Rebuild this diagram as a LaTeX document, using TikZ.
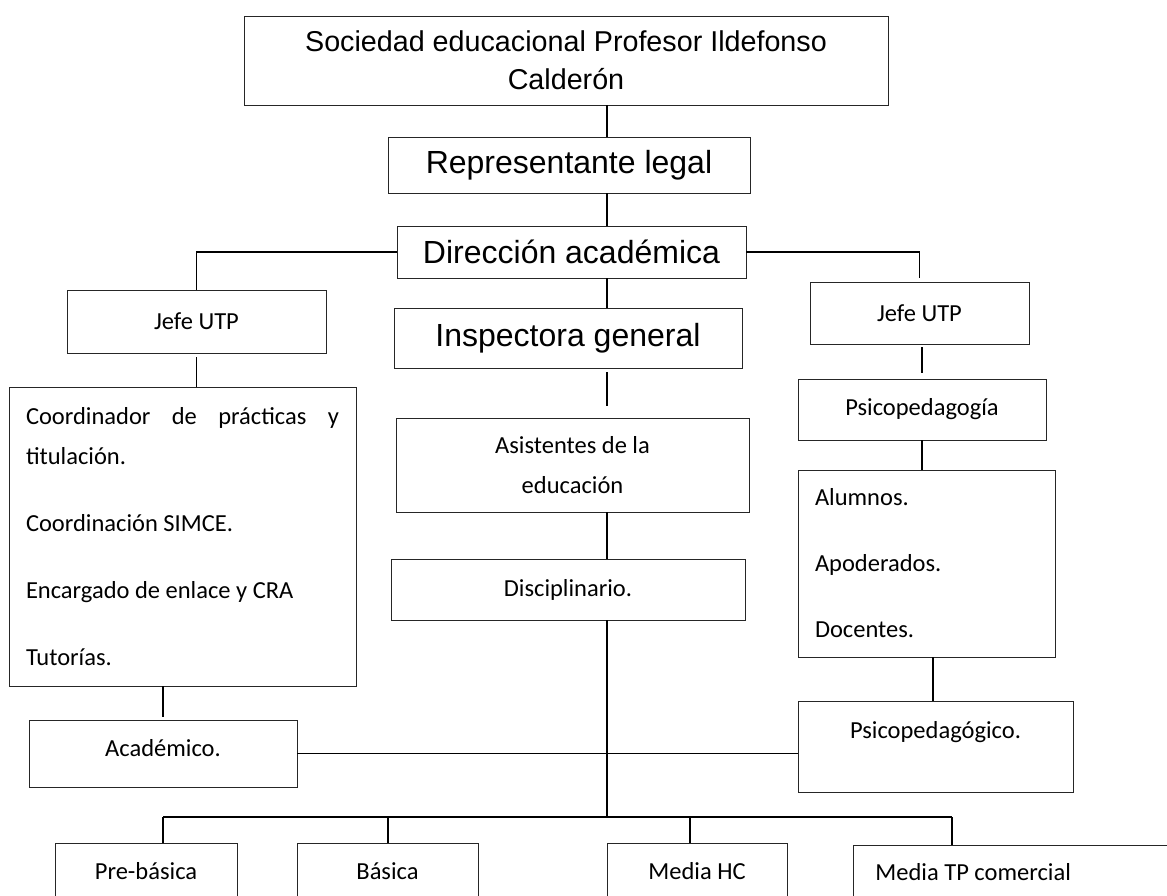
\documentclass[tikz,border=0pt]{standalone}
\usepackage{fontspec}
\setmainfont{Carlito}
\newfontfamily\arialfont{Liberation Sans}
\setlength{\parindent}{0pt}

\begin{document}
\begin{tikzpicture}[x=1pt, y=-1pt,
    box/.style={draw=black!85, line width=0.9pt, inner sep=0pt},
    calib/.style={font=\fontsize{24.5}{40}\selectfont},
    arial/.style={font=\arialfont\fontsize{32}{38}\selectfont},
    title/.style={font=\arialfont\fontsize{28.7}{38}\selectfont},
    link/.style={line width=1.3pt}]
    \clip (0,0) rectangle (1167,896);

    %Nodes
    \node[box, title, align=center, minimum width=644pt, minimum height=89pt] at (566,60.5) (soc) {Sociedad educacional Profesor Ildefonso\\Calderón};
    \node[box, arial, minimum width=362pt, minimum height=56pt] at (569,165) (rep) {Representante legal};
    \node[box, arial, minimum width=349pt, minimum height=52pt] at (571.5,252) (dir) {Dirección académica};
    \node[box, arial, minimum width=348pt, minimum height=60pt] at (568,338) (insp) {Inspectora general};

    \node[box, calib, minimum width=259pt, minimum height=63pt] at (196.5,321.5) (jefeL) {Jefe UTP};
    \node[box, calib, text width=313pt, align=justify, inner xsep=17pt, minimum height=299pt] at (182.5,536.5) (coord) {Coordinador de prácticas y \mbox{titulación.}\\[27pt]Coordinación SIMCE.\\[27pt]Encargado de enlace y CRA\\[27pt]Tutorías.};
    \node[box, calib, minimum width=268pt, minimum height=67pt, text depth=11pt] at (163,753.5) (acad) {Académico.};

    \node[box, calib, align=center, minimum width=353pt, minimum height=94pt] at (572.5,465) (asist) {Asistentes de la\\educación};
    \node[box, calib, minimum width=354pt, minimum height=61pt] at (568,589.5) (disc) {Disciplinario.};

    \node[box, calib, minimum width=219pt, minimum height=62pt] at (919.5,313) (jefeR) {Jefe UTP};
    \node[box, calib, minimum width=248pt, minimum height=61pt] at (922,409.5) (psico) {Psicopedagogía};
    \node[box, calib, text width=223pt, align=flush left, inner xsep=17pt, minimum height=187pt] at (926.5,563.5) (alum) {Alumnos.\\[26pt]Apoderados.\\[26pt]Docentes.};
    \node[box, calib, minimum width=275pt, minimum height=91pt, text depth=34pt] at (935.5,746.5) (psicog) {Psicopedagógico.};

    \node[box, calib, minimum width=182pt, minimum height=56pt] at (146,871) (preb) {Pre-básica};
    \node[box, calib, minimum width=181pt, minimum height=56pt] at (387.5,871) (bas) {Básica};
    \node[box, calib, minimum width=180pt, minimum height=56pt] at (697,871) (mhc) {Media HC};
    \node[box, calib, text width=315pt, align=flush left, inner xsep=22pt, minimum height=54pt, anchor=west] at (853,872) (mtp) {Media TP comercial};

    \coordinate (spine) at (607,0);
    \coordinate (busL) at (163,817);
    \coordinate (busR) at (952,817);
    \coordinate (dropB) at (388,817);
    \coordinate (dropM) at (690,817);

    %Lines
    \draw[link] (soc.south -| spine) -- (rep.north -| spine);
    \draw[link] (rep.south -| spine) -- (dir.north -| spine);
    \draw[link] (dir.south -| spine) -- (insp.north -| spine);
    \draw[link, shorten <=4pt, shorten >=12pt] (insp.south -| spine) -- (asist.north -| spine);
    \draw[link] (asist.south -| spine) -- (disc.north -| spine);
    \draw[link] (disc.south -| spine) -- (spine |- busL);

    \draw[link] (dir.west) -| (jefeL.north);
    \draw[link, shorten >=4pt] (dir.east) -| (jefeR.north);
    \draw[link, shorten <=4pt] (jefeL.south) -- (jefeL.south |- coord.north);
    \draw[link, shorten >=3pt] (coord.south -| acad.north) -- (acad.north);
    \draw[link, shorten <=3pt, shorten >=6pt] (jefeR.south -| psico.north) -- (psico.north);
    \draw[link] (psico.south) -- (psico.south |- alum.north);
    \draw[link] (alum.south -| 933,0) -- (psicog.north -| 933,0);
    \draw[link] (acad.east) -- (acad.east -| psicog.west);

    \draw[link] (busL) -- (busR);
    \draw[link] (busL) -- (busL |- preb.north);
    \draw[link] (dropB) -- (dropB |- bas.north);
    \draw[link] (dropM) -- (dropM |- mhc.north);
    \draw[link] (busR) -- (busR |- mtp.north);
\end{tikzpicture}
\end{document}
